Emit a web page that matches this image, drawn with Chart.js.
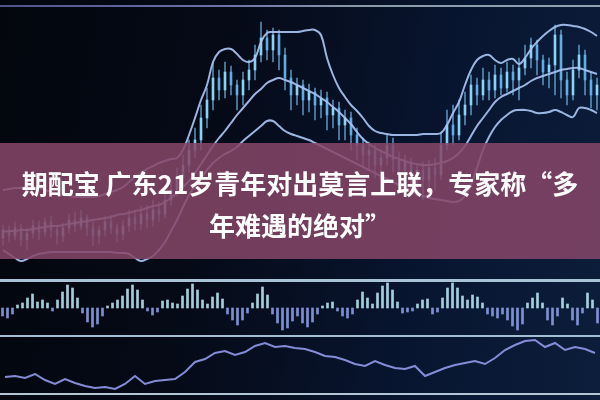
<!DOCTYPE html>
<html>
<head>
<meta charset="utf-8">
<script src="https://cdn.jsdelivr.net/npm/chart.js@4/dist/chart.umd.min.js"></script>
<style>
html,body{margin:0;padding:0;width:600px;height:400px;overflow:hidden;background:#050a16;}
#wrap{position:relative;width:600px;height:400px;overflow:hidden;
  background:linear-gradient(100deg,#03060d 0%,#050a17 35%,#081530 70%,#0c1e3b 100%);}
canvas{position:absolute;left:0;}
.hl{position:absolute;left:0;width:600px;z-index:5;}
#banner{position:absolute;left:0;top:143px;width:600px;height:116px;background:rgba(134,70,104,0.86);z-index:3;}
#title{position:absolute;left:0;top:143px;width:600px;height:116px;box-sizing:border-box;padding-top:19px;
  color:#fff;font-family:"Noto Sans CJK SC","Noto Sans",sans-serif;font-weight:700;font-size:26px;line-height:42px;
  text-align:center;z-index:4;white-space:nowrap;}
</style>
</head>
<body>
<div id="wrap">
  <canvas id="price" width="600" height="279" style="top:0;width:600px;height:279px"></canvas>
  <canvas id="osc" width="600" height="54" style="top:281px;width:600px;height:54px"></canvas>
  <canvas id="trend" width="600" height="60" style="top:336px;width:600px;height:60px"></canvas>
  <div id="banner"></div>
  <div id="title">期配宝 广东21岁青年对出莫言上联，专家称“多<br>年难遇的绝对”</div>
  <div class="hl" style="top:5px;height:2px;background:linear-gradient(90deg,#4f5490 0%,#6a6fa8 35%,#8b9aa8 60%,#8fa3b2 100%);"></div>
  <div class="hl" style="top:279px;height:3px;background:#a9c3d6;"></div>
  <div class="hl" style="top:335px;height:2px;background:#a3bdd2;"></div>
  <div class="hl" style="top:393px;height:2px;background:#b3c6d6;"></div>
</div>
<script>
// ---- price panel (candles + Bollinger bands) ----
const openP  = [41,49,43,51,39,46,53,47,57,49, 43,51,59,53,61,51,43,49,57,51, 45,53,61,55,65,59,69,65,79,89,
  101,114,129,139,161,179,201,189,207,194, 184,199,209,224,241,229,244,224,201,184, 194,179,187,174,181,164,171,154,161,144,
  134,124,129,114,121,134,119,109,117,101, 109,99,111,104,134,154,144,164,174,194, 184,199,189,204,191,207,199,211,221,234,
  219,207,214,244,199,184,209,224,199,184];
const closeP = [49,43,51,39,46,53,47,57,49,43, 51,59,53,61,51,43,49,57,51,45, 53,61,55,65,59,69,65,79,89,101,
  114,129,139,161,179,201,189,207,194,184, 199,209,224,241,229,244,224,201,184,194, 179,187,174,181,164,171,154,161,144,134,
  124,129,114,121,134,119,109,117,101,109, 99,111,104,134,154,144,164,174,194,184, 199,189,204,191,207,199,211,221,234,219,
  207,214,244,199,184,209,224,199,184,194];
const highP  = [54,53,57,55,51,59,58,61,63,54, 56,65,67,69,64,57,53,63,64,55, 59,69,67,73,74,79,77,87,99,111,
  124,139,151,174,191,217,209,217,213,199, 207,219,234,257,249,251,249,231,209,201, 199,195,191,189,187,179,177,169,167,151,
  141,137,134,129,144,141,127,124,121,114, 117,119,121,147,169,174,179,187,204,201, 211,207,214,211,217,214,221,234,241,239,
  224,221,254,249,207,219,234,229,207,201];
const lowP   = [34,37,39,33,29,41,39,43,41,35, 37,46,47,49,43,33,35,43,45,37, 39,47,49,49,51,53,57,61,73,83,
  94,107,121,129,151,169,179,181,184,169, 174,189,199,217,219,217,209,189,169,174, 164,167,159,161,149,151,139,139,129,119,
  111,109,101,99,114,107,94,89,84,83, 79,81,89,99,129,134,139,154,164,174, 179,179,181,184,187,184,179,204,211,204,
  194,191,184,181,174,179,201,184,171,169];
const upperBand = [89,90,91,91,92,92,91,89,87,85, 84,83,82,82,82,82,83,85,87,89, 92,97,102,106,110,113,116,118,120,121,
  129,144,161,179,194,217,227,230,230,225, 219,217,221,237,246,247,247,247,247,247, 248,249,249,244,221,204,191,182,174,168,
  161,153,148,146,145,144,144,144,144,144, 145,145,145,146,154,166,177,194,209,219, 223,224,219,216,219,220,215,221,230,237,
  243,248,252,254,254,253,252,250,247,243];
const middleBand = [47,48,48,49,49,50,51,52,53,53, 54,55,56,57,58,59,60,61,62,64, 65,66,68,69,71,73,74,77,81,86,
  92,98,106,115,124,133,141,148,156,164, 171,178,185,190,196,199,201,199,197,194, 191,188,185,181,177,172,167,161,155,147,
  140,135,131,128,125,122,120,118,116,115, 114,114,115,116,118,121,126,133,143,153, 161,169,177,182,185,188,191,194,198,201,
  203,205,207,209,210,211,211,209,207,205];
const lowerBand = [29,25,21,18,20,23,25,26,27,27, 27,27,27,27,27,27,27,27,27,26, 26,25,21,18,20,23,29,37,48,59,
  72,84,93,101,109,116,121,125,128,132, 138,143,148,153,158,158,153,148,145,143, 141,139,136,133,130,127,124,121,118,115,
  112,109,106,103,100,97,94,91,88,85, 83,81,80,79,78,77,78,83,94,111, 129,142,152,159,164,168,169,169,168,166,
  166,167,169,167,164,162,171,171,169,166];
const days = openP.map((_, i) => 'D' + (i + 1));

// ---- oscillator histogram ----
const oscValues = [-8,-10,-6,3,5,10,14,6,8,5, -3,8,16,23,20,10,-5,-14,-19,-16, -8,2,5,8,12,19,23,18,8,-3,
  -7,-4,7,8,5,4,12,19,24,18, 8,4,11,15,9,-6,-12,-17,-12,-5, 5,14,21,13,-6,-15,-22,-20,-13,-8,
  -15,-19,-14,-6,2,5,6,-3,-8,-10, -6,8,16,10,4,15,22,25,18,6, -5,-4,-3,4,8,9,-6,-4,10,20,
  25,20,12,8,13,11,5,-6,-8,-10, -6,-12,-18,-22,-16,5,10,15,5,-12, -17,-8,10,4,-12,-17,-5,15,8,-15];
const oscLabels = oscValues.map((_, i) => 'B' + (i + 1));

// ---- lower trend line ----
const trendValues = [19,20,18,22,16,12,17,13,10,8, 9,7,12,20,12,15,16,17,24,34,
  37,43,45,41,44,50,53,49,50,48, 47,44,40,39,36,32,30,35,31,28,
  27,30,20,24,28,31,33,35,32,38, 46,51,55,56,49,53,46,49,47,43];
const trendLabels = trendValues.map((_, i) => 'T' + (i + 1));

const base = {
  responsive:false, animation:false, events:[],
  layout:{padding:0},
  plugins:{legend:{display:false}, tooltip:{enabled:false}, title:{display:false}}
};
const bandStyle = {type:'line', borderColor:'rgba(168,195,242,0.92)', borderWidth:2, pointRadius:0, tension:0.4, fill:false, order:0, clip:false};

new Chart(document.getElementById('price'), {
  type:'bar',
  data:{labels:days, datasets:[
    Object.assign({data:upperBand}, bandStyle),
    Object.assign({data:middleBand}, bandStyle),
    Object.assign({data:lowerBand}, bandStyle),
    {type:'bar', data:days.map((d,i)=>[lowP[i], highP[i]]), grouped:false, barThickness:1,
     backgroundColor:'rgba(120,190,235,0.7)', order:2},
    {type:'bar', data:days.map((d,i)=>[openP[i], closeP[i]]), grouped:false, barThickness:2,
     backgroundColor:(c)=>{const i=c.dataIndex; return closeP[i]>=openP[i]?'rgba(140,215,248,0.95)':'rgba(100,180,235,0.9)';}, order:1}
  ]},
  options:Object.assign({}, base, {scales:{x:{display:false}, y:{display:false, min:0, max:279}}})
});

new Chart(document.getElementById('osc'), {
  type:'bar',
  data:{labels:oscLabels, datasets:[{data:oscValues, barThickness:2,
    backgroundColor:(c)=>c.raw>=0?'rgba(180,224,236,0.92)':'rgba(140,158,228,0.9)'}]},
  options:Object.assign({}, base, {scales:{x:{display:false}, y:{display:false, min:-27, max:27}}})
});

new Chart(document.getElementById('trend'), {
  type:'line',
  data:{labels:trendLabels, datasets:[{data:trendValues, borderColor:'rgba(140,148,225,0.95)', borderWidth:2, pointRadius:0, tension:0, fill:false}]},
  options:Object.assign({}, base, {scales:{x:{display:false, offset:true}, y:{display:false, min:0, max:60}}})
});
</script>
</body>
</html>
